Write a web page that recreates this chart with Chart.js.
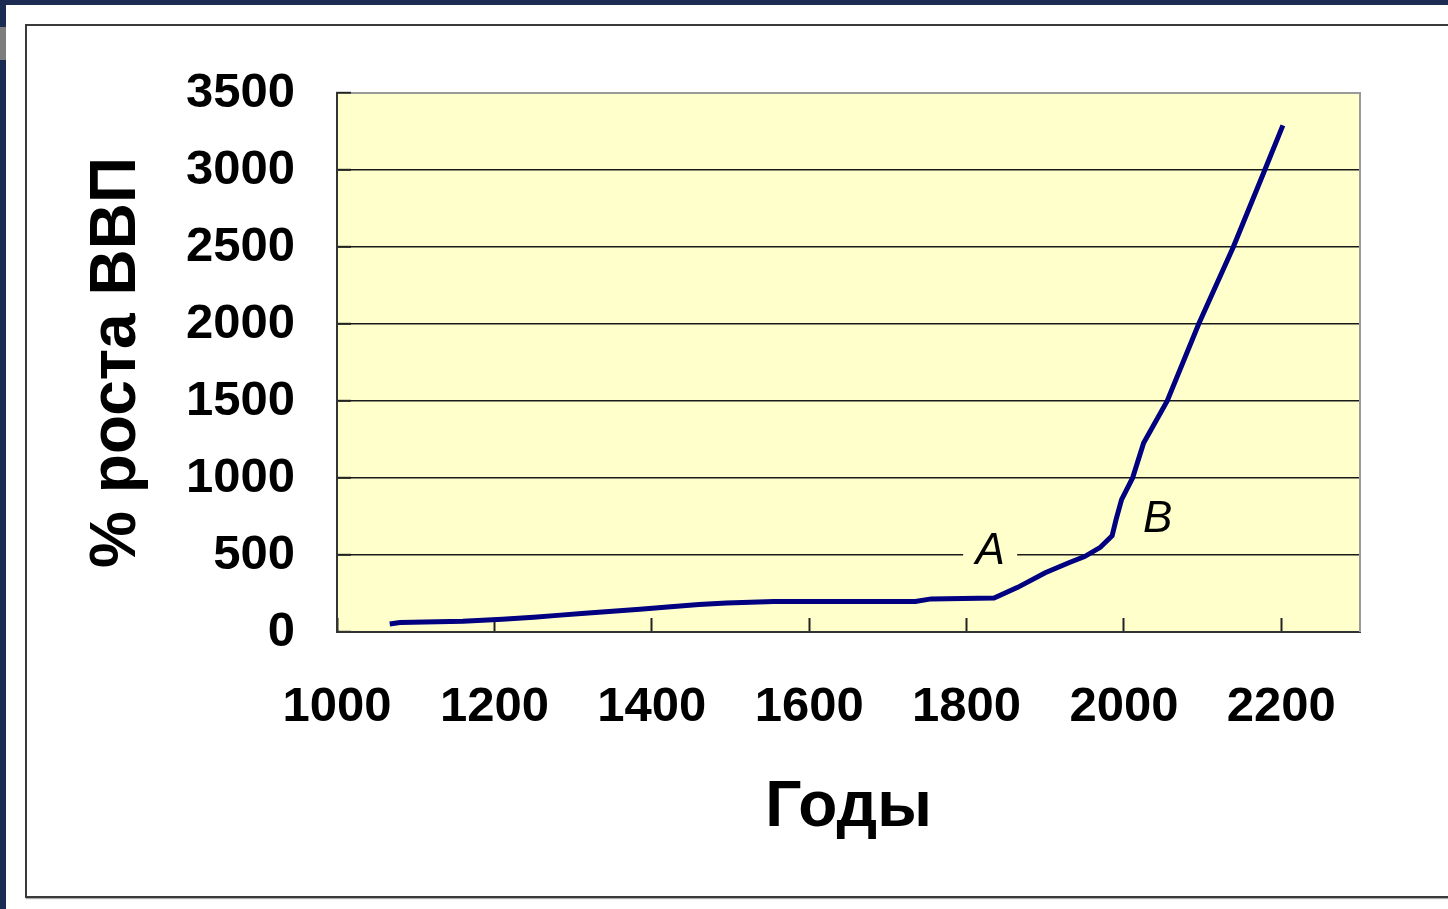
<!DOCTYPE html>
<html>
<head>
<meta charset="utf-8">
<script src="https://cdn.jsdelivr.net/npm/chart.js@4"></script>
<style>
  html, body { margin:0; padding:0; width:1448px; height:909px; overflow:hidden; background:#1c2b52; }
  #white { position:absolute; left:6px; top:5px; width:1442px; height:904px; background:#ffffff; }
  #gray { position:absolute; left:0; top:27px; width:6px; height:33px; background:#7d7d7d; }
  #frame { position:absolute; left:25px; top:24px; width:1460px; height:870px; border:2px solid #3a3a3a; box-shadow: 1px 1px 1px #aaa; }
  #c { position:absolute; left:0; top:0; }
</style>
</head>
<body>
<div id="white"></div>
<div id="gray"></div>
<div id="frame"></div>
<canvas id="c" width="1448" height="909"></canvas>
<script>
// Data
const years  = [1067,1080,1160,1210,1250,1280,1315,1350,1385,1420,1460,1495,1555,1735,1755,1835,1865,1900,1930,1950,1970,1985,1990,1997,2011,2025,2055,2095,2139,2179,2202];
const growth = [52,62,70,82,96,108,122,135,148,163,178,188,198,198,215,220,290,385,450,490,550,625,730,860,1000,1227,1500,2000,2500,3000,3290];
const xTitle = 'Годы';
const yTitle = '% роста ВВП';
const noteLabels = ['A', 'B'];
const noteYears  = [1830, 2043];
const noteValues = [532, 740];

const plotBg = {
  id: 'plotBg',
  beforeDraw(chart) {
    const {ctx, chartArea: a} = chart;
    ctx.save();
    ctx.fillStyle = '#FFFFCC';
    ctx.fillRect(a.left, a.top, a.right - a.left, a.bottom - a.top);
    ctx.restore();
  },
  beforeDatasetsDraw(chart) {
    const {ctx, chartArea: a} = chart;
    ctx.save();
    ctx.strokeStyle = '#9a9a9a';
    ctx.lineWidth = 2;
    ctx.beginPath();
    ctx.moveTo(a.left + 14, a.top);
    ctx.lineTo(a.right, a.top);
    ctx.lineTo(a.right, a.bottom);
    ctx.stroke();
    ctx.restore();
  }
};

const notes = {
  id: 'notes',
  afterDatasetsDraw(chart) {
    const {ctx, scales} = chart;
    ctx.save();
    ctx.font = 'italic 44px "Liberation Sans", Arial, sans-serif';
    ctx.textAlign = 'center';
    ctx.textBaseline = 'middle';
    noteLabels.forEach((t, i) => {
      const x = scales.x.getPixelForValue(noteYears[i]);
      const y = scales.y.getPixelForValue(noteValues[i]);
      ctx.fillStyle = '#FFFFCC';
      ctx.fillRect(x - 27, y - 20, 54, 40);
      ctx.fillStyle = '#000';
      ctx.fillText(t, x, y + 2);
    });
    ctx.restore();
  }
};

new Chart(document.getElementById('c'), {
  type: 'line',
  data: {
    datasets: [{
      data: years.map((y, i) => ({x: y, y: growth[i]})),
      borderColor: '#000080',
      borderWidth: 5,
      pointRadius: 0,
      tension: 0,
      fill: false
    }]
  },
  options: {
    responsive: false,
    animation: false,
    devicePixelRatio: 1,
    layout: { padding: { left: 0, top: 93, right: 88, bottom: 0 } },
    plugins: { legend: { display: false }, tooltip: { enabled: false } },
    scales: {
      x: {
        type: 'linear',
        min: 1000, max: 2300,
        afterFit(s) { s.height = 277; },
        ticks: {
          stepSize: 200,
          includeBounds: false,
          padding: 60,
          color: '#000',
          font: { family: '"Liberation Sans", Arial, sans-serif', size: 49, weight: 'bold' },
          maxRotation: 0,
          callback: v => String(v)
        },
        grid: { drawOnChartArea: false, drawTicks: true, tickLength: -14, tickColor: '#222', tickWidth: 2 },
        border: { color: '#333', width: 2 },
        title: {
          display: true, text: xTitle, color: '#000',
          font: { family: '"Liberation Sans", Arial, sans-serif', size: 64, weight: 'bold' },
          padding: { top: 0, bottom: 62 }
        }
      },
      y: {
        type: 'linear',
        min: 0, max: 3500,
        afterFit(s) { s.width = 337; },
        ticks: {
          stepSize: 500,
          padding: 56,
          color: '#000',
          font: { family: '"Liberation Sans", Arial, sans-serif', size: 49, weight: 'bold' },
          callback: v => String(v)
        },
        grid: {
          color: c => (c.tick && c.tick.value === 3500) ? 'rgba(0,0,0,0)' : '#1a1a1a',
          lineWidth: 1.6,
          drawTicks: true, tickLength: -14, tickColor: '#222', tickWidth: 2
        },
        border: { color: '#333', width: 2 },
        title: {
          display: true, text: yTitle, color: '#000',
          font: { family: '"Liberation Sans", Arial, sans-serif', size: 64, weight: 'bold' },
          padding: { top: 79, bottom: 0 }
        }
      }
    }
  },
  plugins: [plotBg, notes]
});
</script>
</body>
</html>
